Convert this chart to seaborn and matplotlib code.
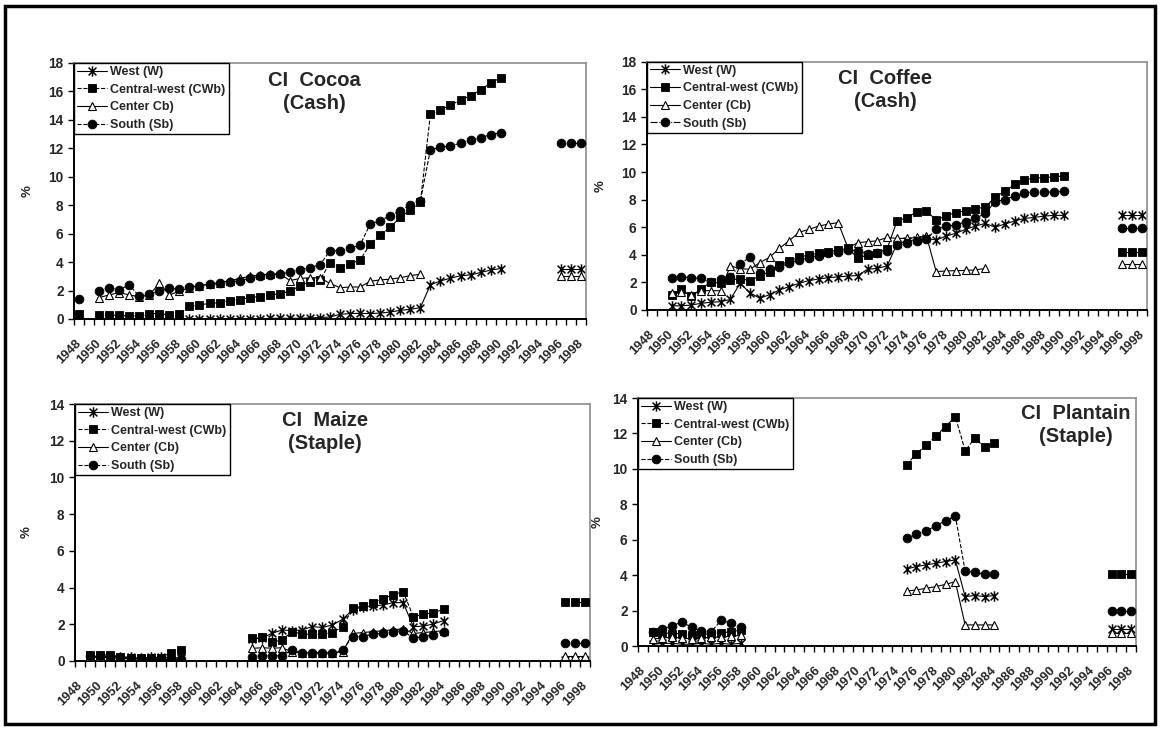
import numpy as np
import pandas as pd
import seaborn as sns
import matplotlib
matplotlib.use("Agg")
import matplotlib.pyplot as plt
from matplotlib.path import Path
from matplotlib.lines import Line2D
from matplotlib.patches import Rectangle
from matplotlib.transforms import ScaledTranslation

# ---------------------------------------------------------------- data
YEARS = np.arange(1948, 1999)
FIRST_YEAR = 1948


def series(*blocks):
    """Build a full-length yearly series from (start_year, values) blocks."""
    out = np.full(YEARS.size, np.nan)
    for start, vals in blocks:
        i = start - FIRST_YEAR
        out[i:i + len(vals)] = vals
    return out


# Cocoa (cash crop)
cocoa_w_early = [0.0]
cocoa_w_main = [0.0, 0.0, 0.0, 0.0, 0.0, 0.0, 0.0, 0.0, 0.0, 0.0, 0.0,
                0.02, 0.02, 0.02, 0.02, 0.02, 0.02, 0.05, 0.05, 0.05, 0.05, 0.08, 0.1,
                0.14, 0.33, 0.38, 0.4, 0.38, 0.42, 0.49, 0.61, 0.68, 0.8,
                2.4, 2.68, 2.87, 3.04, 3.1, 3.27, 3.44, 3.55]
cocoa_w_late = [3.5, 3.5, 3.5]

cocoa_cw_early = [0.33]
cocoa_cw_main = [0.28, 0.28, 0.26, 0.21, 0.21, 0.38, 0.38, 0.28, 0.38,
                 0.89, 0.99, 1.1, 1.15, 1.3, 1.37, 1.51, 1.58, 1.69, 1.77, 1.95, 2.33,
                 2.61, 2.75, 3.93, 3.62, 3.9, 4.14, 5.27, 5.9, 6.45, 7.15, 7.67, 8.2,
                 14.4, 14.73, 15.03, 15.4, 15.7, 16.1, 16.6, 16.96]

cocoa_c_main = [1.5, 1.7, 1.85, 1.7, 1.55, 1.7, 2.5, 1.7, 1.95, 2.2, 2.35,
                2.45, 2.55, 2.7, 2.85, 3.0, 3.1, 3.15, 3.2, 2.7, 2.85,
                2.9, 2.9, 2.5, 2.2, 2.25, 2.25, 2.65, 2.75, 2.8, 2.9, 3.05, 3.15]
cocoa_c_late = [3.0, 3.0, 3.0]

cocoa_s_early = [1.4]
cocoa_s_main = [2.0, 2.2, 2.05, 2.4, 1.6, 1.75, 1.95, 2.15, 2.1, 2.25, 2.35,
                2.45, 2.5, 2.6, 2.7, 2.85, 3.0, 3.1, 3.15, 3.3, 3.45,
                3.62, 3.81, 4.8, 4.8, 4.98, 5.2, 6.68, 6.92, 7.27, 7.62, 8.04, 8.3,
                11.9, 12.07, 12.19, 12.35, 12.56, 12.75, 12.96, 13.1]
cocoa_s_late = [12.35, 12.35, 12.35]

# Coffee (cash crop)
coffee_w_main = [0.3, 0.3, 0.36, 0.48, 0.56, 0.6, 0.77, 1.93, 1.25, 0.85, 1.11,
                 1.45, 1.69, 1.93, 2.13, 2.25, 2.34, 2.4, 2.46, 2.5, 2.95,
                 3.02, 3.2, 4.8, 5.0, 5.1, 5.2, 5.07, 5.36, 5.56, 5.85, 6.08, 6.28,
                 6.0, 6.23, 6.45, 6.64, 6.71, 6.81, 6.86, 6.86]
coffee_w_late = [6.86, 6.86, 6.86]

coffee_cw_main = [1.09, 1.5, 1.01, 1.5, 2.03, 1.93, 2.17, 2.27, 2.13, 2.46, 2.78,
                  3.26, 3.55, 3.82, 3.99, 4.11, 4.23, 4.35, 4.47, 3.75, 3.99,
                  4.15, 4.45, 6.45, 6.7, 7.1, 7.2, 6.5, 6.85, 7.05, 7.2, 7.35, 7.45,
                  8.2, 8.6, 9.1, 9.45, 9.55, 9.6, 9.65, 9.72]
coffee_cw_late = [4.18, 4.18, 4.18]

coffee_c_main = [1.2, 1.3, 1.1, 1.4, 1.4, 1.4, 3.2, 3.0, 2.95, 3.43, 3.82,
                 4.47, 5.02, 5.63, 5.84, 6.08, 6.23, 6.33, 4.5, 4.88, 4.95,
                 5.02, 5.26, 5.19, 5.19, 5.26, 5.36, 2.78, 2.83, 2.85, 2.87, 2.9, 3.02]
coffee_c_late = [3.33, 3.33, 3.33]

coffee_s_main = [2.29, 2.41, 2.34, 2.29, 2.0, 2.22, 2.36, 3.3, 3.86, 2.66, 2.95,
                 3.1, 3.4, 3.6, 3.8, 3.95, 4.1, 4.23, 4.35, 4.3, 4.03,
                 4.1, 4.3, 4.71, 4.83, 5.02, 5.12, 5.85, 6.08, 6.16, 6.4, 6.64, 7.0,
                 7.85, 8.0, 8.26, 8.5, 8.55, 8.55, 8.55, 8.6]
coffee_s_late = [5.92, 5.92, 5.92]

# Maize (staple crop)
maize_w_early = [0.25, 0.25, 0.25, 0.22, 0.2, 0.15, 0.2, 0.2, 0.2, 0.15]
maize_w_main = [1.2, 1.25, 1.51, 1.69, 1.65, 1.7, 1.87, 1.83, 1.96, 2.27,
                2.8, 2.95, 3.0, 3.05, 3.18, 3.18, 1.87, 1.9, 2.02, 2.2]
maize_w_late = [0.05, 0.05, 0.05]

maize_cw_early = [0.33, 0.33, 0.33, 0.24, 0.18, 0.18, 0.18, 0.18, 0.46, 0.58]
maize_cw_main = [1.24, 1.29, 1.02, 1.15, 1.6, 1.47, 1.45, 1.47, 1.55, 1.87,
                 2.87, 3.0, 3.17, 3.4, 3.6, 3.78, 2.42, 2.54, 2.63, 2.81]
maize_cw_late = [3.24, 3.24, 3.24]

maize_c_early = [0.2, 0.2, 0.2, 0.15, 0.12, 0.12, 0.12, 0.12, 0.1, 0.1]
maize_c_main = [0.69, 0.72, 0.7, 0.72, 0.5, 0.45, 0.45, 0.45, 0.45, 0.5,
                1.5, 1.55, 1.6, 1.65, 1.7, 1.75, 1.5, 1.55, 1.6, 1.65]
maize_c_late = [0.25, 0.25, 0.25]

maize_s_early = [0.25, 0.25, 0.22, 0.18, 0.15, 0.12, 0.1, 0.09, 0.09, 0.09]
maize_s_main = [0.24, 0.28, 0.28, 0.28, 0.6, 0.42, 0.42, 0.45, 0.42, 0.6,
                1.33, 1.33, 1.46, 1.51, 1.6, 1.65, 1.24, 1.33, 1.42, 1.6]
maize_s_late = [1.0, 1.0, 1.0]

# Plantain (staple crop)
plantain_w_early = [0.1, 0.15, 0.15, 0.1, 0.1, 0.15, 0.1, 0.15, 0.1, 0.15]
plantain_w_main = [4.35, 4.48, 4.58, 4.67, 4.77, 4.86, 2.79, 2.85, 2.79, 2.85]
plantain_w_late = [0.94, 0.94, 0.94]

plantain_cw_early = [0.8, 0.75, 0.7, 0.7, 0.6, 0.65, 0.7, 0.75, 0.8, 0.9]
plantain_cw_main = [10.23, 10.85, 11.32, 11.86, 12.39, 12.95, 11.03, 11.73, 11.22, 11.45]
plantain_cw_late = [4.05, 4.05, 4.05]

plantain_c_early = [0.4, 0.45, 0.5, 0.45, 0.4, 0.45, 0.5, 0.5, 0.55, 0.6]
plantain_c_main = [3.11, 3.16, 3.26, 3.35, 3.48, 3.63, 1.19, 1.19, 1.19, 1.19]
plantain_c_late = [0.71, 0.71, 0.71]

plantain_s_early = [0.8, 0.95, 1.15, 1.35, 1.05, 0.85, 0.8, 1.45, 1.3, 1.05]
plantain_s_main = [6.08, 6.33, 6.5, 6.78, 7.08, 7.34, 4.24, 4.15, 4.05, 4.05]
plantain_s_late = [1.98, 1.98, 1.98]

REGIONS = ["West (W)", "Central-west (CWb)", "Center (Cb)", "South (Sb)"]

panels = [
    dict(title="CI  Cocoa\n(Cash)", ymax=18,
         labels=["West (W)", "Central-west (CWb)", "Center Cb)", "South (Sb)"],
         styles=["-", "--", "-", "--"],
         data=[series((1948, cocoa_w_early), (1950, cocoa_w_main), (1996, cocoa_w_late)),
               series((1948, cocoa_cw_early), (1950, cocoa_cw_main)),
               series((1950, cocoa_c_main), (1996, cocoa_c_late)),
               series((1948, cocoa_s_early), (1950, cocoa_s_main), (1996, cocoa_s_late))]),
    dict(title="CI  Coffee\n(Cash)", ymax=18,
         labels=REGIONS, styles=["-", "-", "-", "-."],
         data=[series((1950, coffee_w_main), (1996, coffee_w_late)),
               series((1950, coffee_cw_main), (1996, coffee_cw_late)),
               series((1950, coffee_c_main), (1996, coffee_c_late)),
               series((1950, coffee_s_main), (1996, coffee_s_late))]),
    dict(title="CI  Maize\n(Staple)", ymax=14,
         labels=REGIONS, styles=["-", "--", "-", "--"],
         data=[series((1949, maize_w_early), (1965, maize_w_main), (1996, maize_w_late)),
               series((1949, maize_cw_early), (1965, maize_cw_main), (1996, maize_cw_late)),
               series((1949, maize_c_early), (1965, maize_c_main), (1996, maize_c_late)),
               series((1949, maize_s_early), (1965, maize_s_main), (1996, maize_s_late))]),
    dict(title="CI  Plantain\n(Staple)", ymax=14,
         labels=REGIONS, styles=["-", "--", "-", "--"],
         data=[series((1949, plantain_w_early), (1975, plantain_w_main), (1996, plantain_w_late)),
               series((1949, plantain_cw_early), (1975, plantain_cw_main), (1996, plantain_cw_late)),
               series((1949, plantain_c_early), (1975, plantain_c_main), (1996, plantain_c_late)),
               series((1949, plantain_s_early), (1975, plantain_s_main), (1996, plantain_s_late))]),
]

# ---------------------------------------------------------------- style
sns.set_style("ticks")
plt.rcParams["font.family"] = ["Liberation Sans", "DejaVu Sans"]
plt.rcParams["font.weight"] = "bold"

# asterisk-like marker: vertical bar crossed by an X
STAR = Path([(0, -1), (0, 1), (-0.75, -0.75), (0.75, 0.75), (-0.75, 0.75), (0.75, -0.75)],
            [Path.MOVETO, Path.LINETO, Path.MOVETO, Path.LINETO, Path.MOVETO, Path.LINETO])
MARKERS = [
    dict(marker=STAR, markersize=7.5, markerfacecolor="none", markeredgewidth=1.1),
    dict(marker="s", markersize=6, markerfacecolor="black", markeredgewidth=0.6),
    dict(marker="^", markersize=6, markerfacecolor="white", markeredgewidth=0.8),
    dict(marker="o", markersize=6.3, markerfacecolor="black", markeredgewidth=0.6),
]

rects = [
    [74 / 1160, 1 - 319 / 730, 512 / 1160, 256 / 730],
    [647 / 1160, 1 - 310 / 730, 500 / 1160, 248.3 / 730],
    [75 / 1160, 1 - 661 / 730, 515 / 1160, 257 / 730],
    [638 / 1160, 1 - 646 / 730, 498 / 1160, 248 / 730],
]
title_pos = [(0.469, 0.887), (0.476, 0.886), (0.485, 0.89), (0.88, 0.89)]
ylabel_x = [-0.078, -0.080, -0.083, -0.07]

fig = plt.figure(figsize=(11.6, 7.3), dpi=100)
fig.patch.set_facecolor("white")
shift_left = ScaledTranslation(-4 / 100, 0, fig.dpi_scale_trans)

for p, rect, tpos, ylx in zip(panels, rects, title_pos, ylabel_x):
    ax = fig.add_axes(rect)
    handles = []
    for k, (vals, ls, mk, lab) in enumerate(zip(p["data"], p["styles"], MARKERS, p["labels"])):
        ok = ~np.isnan(vals)
        run = np.cumsum(np.r_[True, np.diff(ok.astype(int)) != 0])
        df = pd.DataFrame({"year": YEARS, "value": vals, "run": run})[ok]
        sns.lineplot(data=df, x="year", y="value", units="run", estimator=None,
                     sort=False, color="black", linewidth=0.8, linestyle=ls,
                     markeredgecolor="black", legend=False, ax=ax, zorder=2 + k, **mk)
        handles.append(Line2D([], [], color="black", linewidth=0.8, linestyle=ls,
                              markeredgecolor="black", **mk))

    ax.set_xlim(1947.5, 1998.5)
    ax.set_ylim(0, p["ymax"])
    ax.set_xticks(np.arange(1948, 1999, 2))
    ax.set_xticks(np.arange(1947.5, 1999, 1), minor=True)
    ax.set_yticks(np.arange(0, p["ymax"] + 1, 2))
    ax.tick_params(axis="x", which="major", length=0, pad=13, labelsize=9.3)
    ax.tick_params(axis="x", which="minor", length=4, width=1, direction="out", color="black")
    ax.tick_params(axis="y", length=4, width=1, direction="out", labelsize=9.8, color="black")
    for lbl in ax.get_xticklabels():
        lbl.set_rotation(45)
        lbl.set_ha("right")
        lbl.set_va("top")
        lbl.set_rotation_mode("anchor")
        lbl.set_fontweight("bold")
        lbl.set_transform(lbl.get_transform() + shift_left)
    for lbl in ax.get_yticklabels():
        lbl.set_fontweight("bold")
    ax.set_xlabel("")
    ax.set_ylabel("%", fontsize=9.5, fontweight="bold")
    ax.yaxis.set_label_coords(ylx, 0.5)

    for side in ("left", "bottom"):
        ax.spines[side].set_color("black")
        ax.spines[side].set_linewidth(1.4)
    for side in ("top", "right"):
        ax.spines[side].set_visible(True)
        ax.spines[side].set_color("#8c8c8c")
        ax.spines[side].set_linewidth(1.2)

    ax.text(tpos[0], tpos[1], p["title"], transform=ax.transAxes, ha="center", va="center",
            fontsize=14.5, fontweight="bold", linespacing=1.25)

    leg = ax.legend(handles, p["labels"], loc="upper left", bbox_to_anchor=(0, 1),
                    borderaxespad=0, frameon=True, fancybox=False, framealpha=1,
                    edgecolor="black", handlelength=2.4, handletextpad=0.25,
                    borderpad=0.25, labelspacing=0.45, prop={"weight": "bold", "size": 9})
    leg.get_frame().set_linewidth(1.0)

# outer frame around the whole figure
fig.patches.append(Rectangle((5 / 1160, 6 / 730), 1150 / 1160, 718 / 730,
                             transform=fig.transFigure, fill=False,
                             edgecolor="black", linewidth=2.5))

fig.savefig("out.png", dpi=100, facecolor="white")
